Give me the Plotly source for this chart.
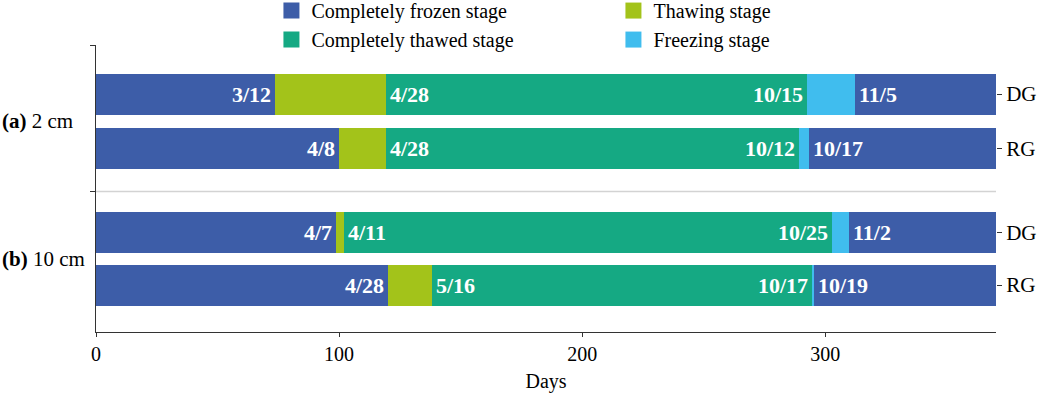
import plotly.graph_objects as go
import numpy as np

# ---- data (days) ----
depths = ["(a) 2 cm", "(b) 10 cm"]
sites = ["DG", "RG", "DG", "RG"]
frozen_start = [73.6, 99.9, 98.8, 120.1]   # completely frozen (beginning of year)
thawing = [45.6, 19.3, 3.1, 18.1]
thawed = [173.1, 170.1, 200.7, 156.4]
freezing = [20.1, 4.0, 7.0, 0.8]
frozen_end = [57.8, 76.9, 60.6, 74.8]      # completely frozen (end of year)

lab_frozen_end = ["3/12", "4/8", "4/7", "4/28"]
lab_thawed_start = ["4/28", "4/28", "4/11", "5/16"]
lab_thawed_end = ["10/15", "10/12", "10/25", "10/17"]
lab_frozen_start = ["11/5", "10/17", "11/2", "10/19"]

stage_names = ["Completely frozen stage", "Thawing stage",
               "Completely thawed stage", "Freezing stage"]
colors = {"frozen": "#3D5DA8", "thawing": "#A3C31A",
          "thawed": "#15A983", "freezing": "#40BDEE"}

FONT = "Liberation Serif"
rows = [0, 1, 2.53, 3.5]
yrange = [4.36, -0.9]
sep_y = 1.787

fig = go.Figure()
segments = [
    (frozen_start, colors["frozen"]),
    (thawing, colors["thawing"]),
    (thawed, colors["thawed"]),
    (freezing, colors["freezing"]),
    (frozen_end, colors["frozen"]),
]
for vals, col in segments:
    fig.add_trace(go.Bar(
        x=vals, y=rows, orientation="h", width=0.75,
        marker=dict(color=col, line=dict(width=0)),
        showlegend=False, hoverinfo="x",
    ))

# legend entries
for name, col in zip(stage_names, [colors["frozen"], colors["thawing"],
                                   colors["thawed"], colors["freezing"]]):
    fig.add_trace(go.Scatter(
        x=[None], y=[None], mode="markers", name=name,
        marker=dict(symbol="square", size=16, color=col),
        yaxis="y2",
    ))

b1 = np.array(frozen_start)
b2 = b1 + np.array(thawing)
b3 = b2 + np.array(thawed)
b4 = b3 + np.array(freezing)

lab_font = dict(family=FONT, size=22, color="white")
for i, r in enumerate(rows):
    for x, txt, anc, sh in [(b1[i], lab_frozen_end[i], "right", -2),
                            (b2[i], lab_thawed_start[i], "left", 2),
                            (b3[i], lab_thawed_end[i], "right", -2),
                            (b4[i], lab_frozen_start[i], "left", 2)]:
        fig.add_annotation(x=x, y=r, xref="x", yref="y", text=f"<b>{txt}</b>",
                           showarrow=False, xanchor=anc, xshift=sh,
                           yanchor="middle", font=lab_font)

# group labels
for (g, yy) in zip(depths, [(rows[0] + rows[1]) / 2, (rows[2] + rows[3]) / 2]):
    pre, post = g.split(" ", 1)
    fig.add_annotation(x=0, xref="paper", xshift=-96, y=yy, yref="y",
                       text=f"<b>{pre}</b> {post}", showarrow=False,
                       xanchor="left", yanchor="middle",
                       font=dict(family=FONT, size=21, color="black"))

fig.add_shape(type="line", xref="paper", yref="y", x0=0, x1=1,
              y0=sep_y, y1=sep_y, line=dict(color="#D3D3D3", width=1.5))

fig.update_layout(
    width=1040, height=394,
    margin=dict(l=96, r=44, t=45, b=62, autoexpand=False),
    plot_bgcolor="white", paper_bgcolor="white",
    barmode="stack", bargap=0,
    font=dict(family=FONT, size=20, color="black"),
    xaxis=dict(range=[0, 370.2], showline=True, linecolor="#333333",
               linewidth=1.3, ticks="outside", ticklen=4, tickcolor="#333333",
               tickvals=[0, 100, 200, 300], showgrid=False, zeroline=False,
               title=dict(text="Days", font=dict(size=20), standoff=9),
               tickfont=dict(size=20)),
    yaxis=dict(range=yrange, side="right", tickvals=rows, ticktext=sites,
               ticks="outside", ticklen=5, tickcolor="#333333",
               showline=False, showgrid=False, zeroline=False,
               tickfont=dict(size=21)),
    yaxis2=dict(range=yrange, overlaying="y", side="left", showline=True,
                linecolor="#333333", linewidth=1.3, tickvals=[-0.9, sep_y],
                ticktext=["", ""], ticks="outside", ticklen=5,
                tickcolor="#333333", showgrid=False, zeroline=False),
    legend=dict(orientation="h", xref="container", x=0.261, xanchor="left",
                y=0.951, yanchor="bottom", traceorder="normal",
                entrywidth=297, entrywidthmode="pixels",
                font=dict(size=20), bgcolor="rgba(0,0,0,0)",
                itemsizing="trace", tracegroupgap=0),
)
fig.write_html(
    "out.html",
    config={"displayModeBar": False},
    post_script="document.body.style.margin='0';document.body.style.overflow='hidden';",
)
